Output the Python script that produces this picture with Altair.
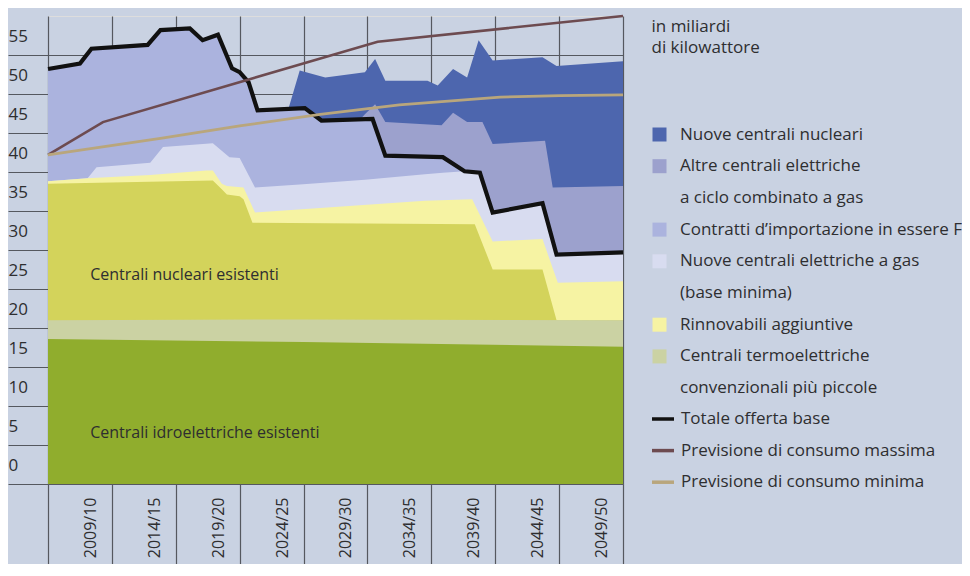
import altair as alt
import pandas as pd

# ---------------- data (x = year, y = miliardi di kWh) -------------
HYDRO_X = [2005, 2025, 2050]
HYDRO_Y = [18.6, 18.2, 17.6]
THERMAL_X = [2005, 2025, 2050]
THERMAL_Y = [21.0, 21.1, 21.0]
NUCLEAR_X = [2005, 2017.9, 2018.6, 2019.0, 2020.0, 2020.3, 2021.0, 2038.4, 2039.8, 2043.7, 2044.8, 2050]
NUCLEAR_Y = [38.5, 38.9, 37.8, 37.1, 36.9, 36.5, 33.5, 33.3, 27.5, 27.5, 21.0, 21.0]
RENEW_X = [2005, 2008.1, 2013.0, 2017.4, 2017.9, 2018.6, 2019.0, 2020.3, 2021.2, 2034.5, 2038.2, 2039.8, 2043.7, 2044.9, 2050]
RENEW_Y = [38.8, 39.2, 39.6, 40.2, 40.2, 38.5, 38.2, 38.0, 34.8, 36.3, 36.5, 31.1, 31.4, 25.8, 26.0]
GAS_X = [2005, 2008.1, 2008.8, 2013.0, 2014.0, 2017.9, 2019.2, 2020.0, 2021.2, 2024.7, 2029.8, 2034.5, 2035.9, 2037.6, 2038.8, 2039.8, 2043.7, 2044.8, 2050]
GAS_Y = [38.8, 39.2, 40.6, 41.2, 43.2, 43.7, 41.9, 41.8, 38.0, 38.4, 39.0, 39.7, 39.9, 40.1, 39.9, 34.8, 36.0, 29.4, 29.7]
TOTAL_X = [2005, 2007.5, 2008.4, 2012.8, 2013.8, 2016.1, 2017.1, 2018.3, 2019.4, 2020.0, 2020.7, 2021.4, 2025.1, 2026.4, 2030.4, 2031.4, 2035.9, 2037.6, 2038.8, 2039.8, 2043.7, 2044.8, 2050]
TOTAL_Y = [53.2, 53.9, 55.8, 56.3, 58.2, 58.4, 56.9, 57.6, 53.3, 52.8, 51.5, 47.9, 48.2, 46.6, 46.8, 42.1, 41.9, 40.1, 39.9, 34.8, 36.0, 29.4, 29.7]
OTHER_GAS_X = [2029.4, 2029.8, 2030.6, 2031.4, 2035.8, 2036.7, 2037.8, 2039.0, 2039.8, 2043.9, 2044.5, 2050]
OTHER_GAS_Y = [46.7, 47.4, 48.7, 46.4, 46.0, 47.6, 46.4, 46.4, 43.6, 44.0, 38.0, 38.2]
NEW_NUC_X = [2023.8, 2024.7, 2026.7, 2029.8, 2030.6, 2031.4, 2034.7, 2035.5, 2036.7, 2037.8, 2038.7, 2039.8, 2043.7, 2044.8, 2050]
NEW_NUC_Y = [48.0, 53.0, 52.1, 52.8, 54.5, 51.7, 51.7, 51.1, 53.2, 52.1, 56.9, 54.3, 54.7, 53.6, 54.2]
MAX_X = [2005, 2009.3, 2030.8, 2050]
MAX_Y = [42.2, 46.4, 56.7, 60.0]
MIN_X = [2005, 2013.8, 2020.0, 2026.3, 2032.5, 2040.4, 2045.1, 2050]
MIN_Y = [42.2, 44.3, 45.9, 47.4, 48.6, 49.6, 49.8, 49.9]

# series names
S_NEWNUC = "Nuove centrali nucleari"
S_OTHER = "Altre centrali elettriche"
C_OTHER = "a ciclo combinato a gas"
S_IMPORT = "Contratti d\u2019importazione in essere F"
S_GAS = "Nuove centrali elettriche a gas"
C_GAS = "(base minima)"
S_RENEW = "Rinnovabili aggiuntive"
S_THERM = "Centrali termoelettriche"
C_THERM = "convenzionali pi\u00f9 piccole"
S_NUC = "Centrali nucleari esistenti"
S_HYDRO = "Centrali idroelettriche esistenti"
L_TOTAL = "Totale offerta base"
L_MAX = "Previsione di consumo massima"
L_MIN = "Previsione di consumo minima"

AREA_DOMAIN = [S_NEWNUC, S_OTHER, C_OTHER, S_IMPORT, S_GAS, C_GAS, S_RENEW, S_THERM, C_THERM, S_NUC, S_HYDRO]
AREA_COLORS = ["#4d66ae", "#9ca1cd", "transparent", "#abb3de", "#d8dcf0", "transparent",
               "#f6f3a3", "#cbd2a3", "transparent", "#d3d35b", "#90ad2d"]
LEGEND_ROWS = AREA_DOMAIN[:9]

LINE_DOMAIN = [L_TOTAL, L_MAX, L_MIN]
LINE_COLORS = ["#111111", "#6d4b50", "#b9a67c"]
LINE_WIDTHS = [4.2, 2.6, 2.8]

Y_TICKS = list(range(0, 60, 5))
X_TICKS = list(range(2005, 2051, 5))

LABELS_TXT = [S_NUC, S_HYDRO]
LABELS_X = [2008.3, 2008.3]
LABELS_Y = [26.2, 5.9]

# -------- tables ----------
area_series = [
    (S_NEWNUC, NEW_NUC_X, NEW_NUC_Y),
    (S_OTHER, OTHER_GAS_X, OTHER_GAS_Y),
    (S_IMPORT, TOTAL_X, TOTAL_Y),
    (S_GAS, GAS_X, GAS_Y),
    (S_RENEW, RENEW_X, RENEW_Y),
    (S_NUC, NUCLEAR_X, NUCLEAR_Y),
    (S_THERM, THERMAL_X, THERMAL_Y),
    (S_HYDRO, HYDRO_X, HYDRO_Y),
]
rows = []
for name, xs, ys in area_series:
    for x, y in zip(xs, ys):
        rows.append({"serie": name, "anno": x, "valore": y})
area_df = pd.DataFrame(rows)

line_series = [(L_TOTAL, TOTAL_X, TOTAL_Y), (L_MAX, MAX_X, MAX_Y), (L_MIN, MIN_X, MIN_Y)]
lrows = []
for name, xs, ys in line_series:
    for x, y in zip(xs, ys):
        lrows.append({"serie": name, "anno": x, "valore": y})
line_df = pd.DataFrame(lrows)

text_df = pd.DataFrame({"anno": LABELS_X, "valore": LABELS_Y, "testo": LABELS_TXT})

GRID = "#55585f"
TEXT = "#2e2e30"
FONT = "Open Sans"

X = alt.X(
    "anno:Q",
    scale=alt.Scale(domain=[2005, 2050], nice=False, zero=False),
    axis=alt.Axis(
        values=X_TICKS,
        labelExpr="datum.value == 2005 ? '' : (datum.value - 1) + '/' + substring(toString(datum.value), 2, 4)",
        labelAngle=270, labelAlign="right", labelBaseline="middle",
        labelOffset=-21.5, labelPadding=-67, labelFontSize=16, labelFont=FONT, labelColor=TEXT,
        labelFlush=False, labelOverlap=False, labelBound=False,
        grid=True, gridColor=GRID, gridWidth=1.2, gridOpacity=1,
        ticks=True, tickSize=80, tickColor=GRID, tickWidth=1.2,
        domain=True, domainColor=GRID, domainWidth=1.2,
        title=None,
    ),
)
Y = alt.Y(
    "valore:Q",
    stack=None,
    scale=alt.Scale(domain=[0, 60], nice=False, zero=True),
    axis=alt.Axis(
        values=Y_TICKS,
        grid=True, gridColor=GRID, gridWidth=1.2, gridOpacity=1,
        ticks=True, tickSize=40, tickColor=GRID, tickWidth=1.2,
        domain=False,
        labelAlign="left", labelBaseline="alphabetic", labelPadding=0, labelOffset=-14,
        labelFontSize=17, labelFont=FONT, labelColor=TEXT,
        title=["in miliardi", "di kilowattore"],
        titleAngle=0, titleAlign="left", titleBaseline="top", titleX=603, titleY=2,
        titleFontSize=17, titleFont=FONT, titleFontWeight="normal", titleColor=TEXT,
        titleLineHeight=21,
    ),
)
FILL = alt.Fill(
    "serie:N",
    scale=alt.Scale(domain=AREA_DOMAIN, range=AREA_COLORS),
    legend=alt.Legend(
        values=LEGEND_ROWS, orient="none", legendX=603, legendY=110, title=None,
        symbolType="square", symbolSize=196, symbolStrokeWidth=0, symbolOpacity=1,
        labelFontSize=17, labelFont=FONT, labelColor=TEXT, labelOffset=12, labelLimit=400,
        rowPadding=13.7, padding=0,
    ),
)
STROKE = alt.Stroke(
    "serie:N",
    scale=alt.Scale(domain=LINE_DOMAIN, range=LINE_COLORS),
    legend=alt.Legend(
        orient="none", legendX=602, legendY=390, title=None,
        symbolType="stroke", symbolSize=484, symbolStrokeWidth=3.5, symbolOpacity=1,
        labelFontSize=17, labelFont=FONT, labelColor=TEXT, labelOffset=5, labelLimit=400,
        rowPadding=10.6, padding=0,
    ),
)

layers = []
for name, _, _ in area_series:
    layers.append(
        alt.Chart(area_df).transform_filter(alt.datum.serie == name)
        .mark_area(opacity=1).encode(x=X, y=Y, fill=FILL)
    )
for name, w in zip(LINE_DOMAIN, LINE_WIDTHS):
    layers.append(
        alt.Chart(line_df).transform_filter(alt.datum.serie == name)
        .mark_line(strokeWidth=w, strokeJoin="miter", strokeCap="butt").encode(x=X, y=Y, stroke=STROKE)
    )
layers.append(
    alt.Chart(text_df).mark_text(align="left", baseline="alphabetic", fontSize=16, font=FONT, color=TEXT)
    .encode(x=X, y=Y, text="testo:N")
)

chart = (
    alt.layer(*layers)
    .properties(
        width=575, height=468,
        autosize=alt.AutoSizeParams(type="none"),
        padding={"left": 40, "top": 8, "right": 339, "bottom": 80},
        background="#c9d2e2",
    )
    .configure_view(strokeWidth=0)
    .configure(font=FONT)
)

chart.save("out.html", embed_options={"renderer": "svg", "actions": False})
